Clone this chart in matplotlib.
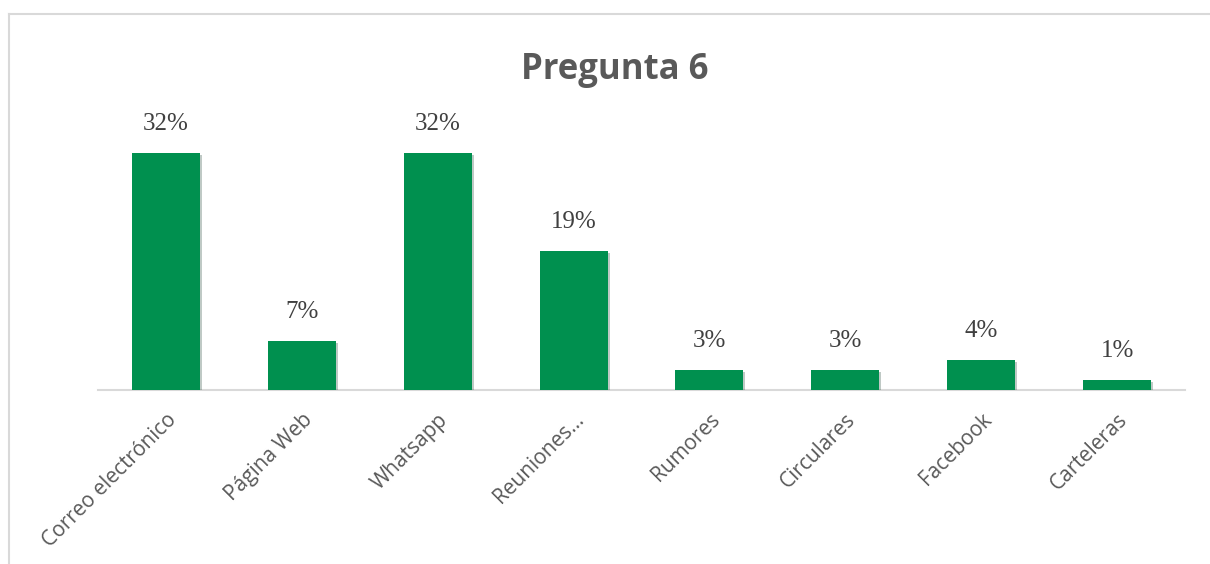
import matplotlib
matplotlib.use("Agg")
from matplotlib import pyplot as plt
from matplotlib import patheffects as pe
from matplotlib.lines import Line2D

# datos
categorias = ["Correo electrónico", "Página Web", "Whatsapp", "Reuniones...",
              "Rumores", "Circulares", "Facebook", "Carteleras"]
porcentajes = [31.9, 6.6, 31.9, 18.7, 2.7, 2.7, 4.0, 1.3]
titulo = "Pregunta 6"

verde = "#00904F"
gris = "#595959"

fig = plt.figure(figsize=(12.1, 5.64), dpi=100)
ax = fig.add_axes([98 / 1210, 174 / 564, 1087 / 1210, 260 / 564])

x = range(len(categorias))
barras = ax.bar(x, porcentajes, width=0.5, color=verde, zorder=3)
for b in barras:
    b.set_path_effects([pe.SimplePatchShadow(offset=(1.5, -1.5), alpha=0.25), pe.Normal()])

for xi, v in zip(x, porcentajes):
    ax.annotate(f"{v:.0f}%", (xi, v), xytext=(0, 13), textcoords="offset points",
                ha="center", va="bottom", fontsize=18, color="#404040",
                family="Liberation Serif")

ax.set_xlim(-0.5, len(categorias) - 0.5)
ax.set_ylim(0, 35)
ax.set_yticks([])
ax.set_xticks(list(x))
ax.set_xticklabels(categorias, rotation=45, ha="right", rotation_mode="anchor",
                   fontsize=15, color=gris, family="Open Sans")
ax.tick_params(axis="x", length=0, pad=14)
for s in ["top", "right", "left"]:
    ax.spines[s].set_visible(False)
ax.spines["bottom"].set_color("#d9d9d9")
ax.spines["bottom"].set_linewidth(1.5)
ax.spines["bottom"].set_zorder(2)

fig.text(615 / 1210, 1 - 79 / 564, titulo, ha="center", va="baseline",
         fontsize=25, fontweight="bold", color=gris, family="Open Sans")

# borde del gráfico
fig.add_artist(Line2D([9 / 1210, 1], [1 - 14 / 564, 1 - 14 / 564], color="#d9d9d9", lw=1.5))
fig.add_artist(Line2D([9 / 1210, 9 / 1210], [0, 1 - 14 / 564], color="#d9d9d9", lw=1.5))

fig.savefig("out.png", dpi=100)
